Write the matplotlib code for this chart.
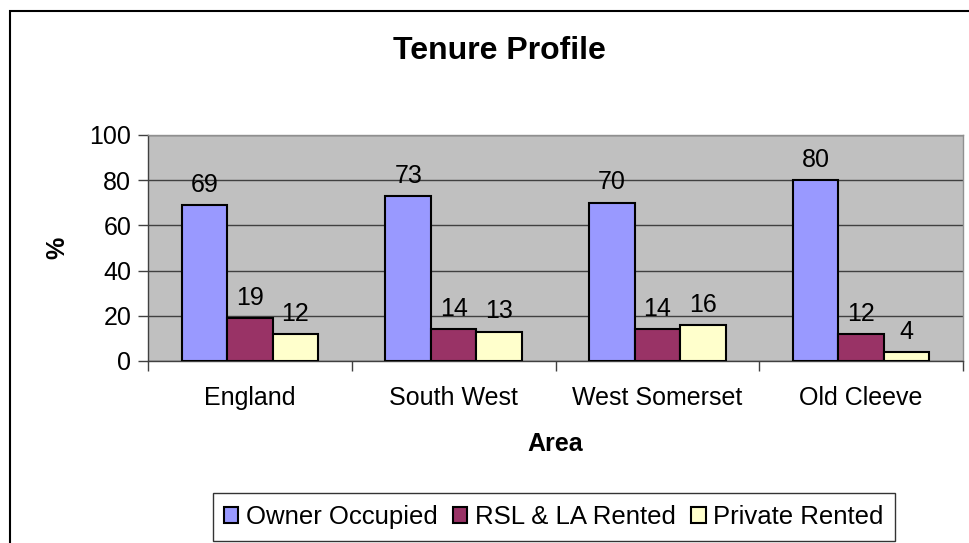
import matplotlib
matplotlib.use('Agg')
import matplotlib.pyplot as plt
from matplotlib.patches import Rectangle
import numpy as np

plt.rcParams['font.family'] = ['Liberation Sans', 'DejaVu Sans']

# Dati
areas = ['England', 'South West', 'West Somerset', 'Old Cleeve']
series_names = ['Owner Occupied', 'RSL & LA Rented', 'Private Rented']
owner_occupied = [69, 73, 70, 80]
rsl_la_rented = [19, 14, 14, 12]
private_rented = [12, 13, 16, 4]
colors = ['#9999FF', '#993366', '#FFFFCC']

fig = plt.figure(figsize=(9.69, 5.43), dpi=100)
ax = fig.add_axes([148/969, 1 - 361/543, (963 - 148)/969, (361 - 135)/543])
ax.set_facecolor('#C0C0C0')

x = np.arange(len(areas)) + 0.5
bw = 0.223
series = [owner_occupied, rsl_la_rented, private_rented]
for k, (vals, name, col) in enumerate(zip(series, series_names, colors)):
    pos = x + (k - 1) * bw
    ax.bar(pos, vals, width=bw, color=col, edgecolor='black', linewidth=1.5,
           label=name, zorder=3)
    for p, v in zip(pos, vals):
        ax.annotate(str(v), (p, v), xytext=(0, 6), textcoords='offset points',
                    ha='center', va='bottom', fontsize=18)

ax.set_xlim(0, 4)
ax.set_ylim(0, 100)
ax.set_yticks(range(0, 101, 20))
ax.set_yticklabels([str(v) for v in range(0, 101, 20)], fontsize=18)
ax.yaxis.grid(True, color='#404040', linewidth=1, zorder=0)
ax.set_axisbelow(True)

# tick di categoria ai confini, etichette al centro
ax.set_xticks(range(0, 5))
ax.set_xticklabels([])
ax.set_xticks(x, minor=True)
ax.set_xticklabels(areas, minor=True, fontsize=18)
ax.tick_params(axis='x', which='minor', length=0, pad=18)
ax.tick_params(axis='x', which='major', length=7, width=1, color='#404040')
ax.tick_params(axis='y', length=7, width=1, color='#404040', pad=5)

for side in ['top', 'right']:
    ax.spines[side].set_color('#909090')
    ax.spines[side].set_linewidth(1)
for side in ['left', 'bottom']:
    ax.spines[side].set_color('#404040')
    ax.spines[side].set_linewidth(1)

fig.text(499/969, 1 - 51/543, 'Tenure Profile', ha='center', va='center',
         fontsize=23, fontweight='bold')
fig.text(57/969, 1 - 248/543, '%', ha='center', va='center', rotation=90,
         fontsize=18, fontweight='bold')
fig.text(555/969, 1 - 444/543, 'Area', ha='center', va='center',
         fontsize=18, fontweight='bold')

leg = fig.legend(loc='center', bbox_to_anchor=(554/969, 1 - 517/543), ncol=3,
                 fontsize=18.5, frameon=True, fancybox=False, edgecolor='black',
                 handlelength=0.55, handleheight=0.55, handletextpad=0.3,
                 columnspacing=0.6, borderpad=0.45)
leg.get_frame().set_linewidth(1)

# bordo esterno del grafico
fig.patches.append(Rectangle((10/969, -0.05), 1.1, 1 - 11/543 + 0.05,
                             transform=fig.transFigure, fill=False,
                             edgecolor='black', linewidth=1.5))

fig.savefig('out.png', dpi=100)
